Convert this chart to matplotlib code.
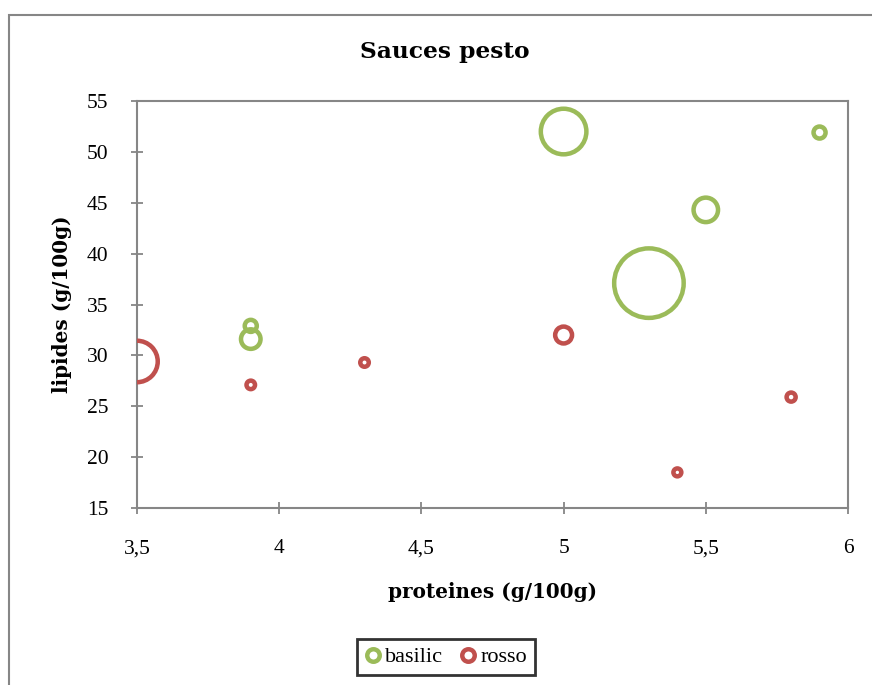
import matplotlib
matplotlib.use("Agg")
import matplotlib.pyplot as plt
from matplotlib.ticker import FuncFormatter
from matplotlib.patches import Rectangle
from matplotlib.lines import Line2D
import numpy as np

# data
basilic_prot = [5.0, 5.9, 5.5, 5.3, 3.9, 3.9]
basilic_lip = [52.0, 51.9, 44.3, 37.1, 32.9, 31.6]
basilic_size = [43.0, 3.0, 12.4, 100.0, 3.0, 7.9]

rosso_prot = [3.5, 3.9, 4.3, 5.0, 5.4, 5.8]
rosso_lip = [29.4, 27.1, 29.3, 32.0, 18.5, 25.9]
rosso_size = [35.6, 1.5, 1.5, 5.9, 1.3, 1.7]

x_ticks = [3.5, 4.0, 4.5, 5.0, 5.5, 6.0]
y_ticks = [15, 20, 25, 30, 35, 40, 45, 50, 55]

GREEN = "#9BBB59"
RED = "#C0504D"
AXGRAY = "#868686"
FONT = ["Liberation Serif", "DejaVu Serif"]
BOLDFONT = ["DejaVu Serif", "Liberation Serif"]
plt.rcParams["font.family"] = FONT

W, H, DPI = 872, 685, 100
fig = plt.figure(figsize=(W / DPI, H / DPI), dpi=DPI)
ax = fig.add_axes([137 / W, 1 - 508 / H, (848 - 137) / W, (508 - 101) / H])

LW_PX = 4.5
MAX_R_PX = 34.75
PT = 72 / DPI


def sizes(vals):
    r = MAX_R_PX * np.sqrt(np.array(vals) / max(basilic_size + rosso_size))
    return (2 * r * PT) ** 2


ax.scatter(basilic_prot, basilic_lip, s=sizes(basilic_size), facecolors="none",
           edgecolors=GREEN, linewidths=LW_PX * PT, zorder=3)
ax.scatter(rosso_prot, rosso_lip, s=sizes(rosso_size), facecolors="none",
           edgecolors=RED, linewidths=LW_PX * PT, zorder=3)

ax.set_xlim(3.5, 6.0)
ax.set_ylim(15, 55)
ax.set_xticks(x_ticks)
ax.set_yticks(y_ticks)
fmt = FuncFormatter(lambda v, p: ("%g" % v).replace(".", ","))
ax.xaxis.set_major_formatter(fmt)
ax.yaxis.set_major_formatter(fmt)

for side in ["left", "bottom", "top", "right"]:
    ax.spines[side].set_color(AXGRAY)
    ax.spines[side].set_linewidth(1.5)
ax.tick_params(direction="inout", length=9, width=1.3, color=AXGRAY,
               labelsize=15.5, labelcolor="black")
ax.tick_params(axis="x", pad=18)
ax.tick_params(axis="y", pad=16)

fig.text(445 / W, 1 - 52 / H, "Sauces pesto", ha="center", va="center",
         fontsize=16.8, fontweight="bold", family=BOLDFONT)
fig.text(492 / W, 1 - 592 / H, "proteines (g/100g)", ha="center", va="center",
         fontsize=14.4, fontweight="bold", family=BOLDFONT)
fig.text(62 / W, 1 - 304 / H, "lipides (g/100g)", ha="center", va="center",
         fontsize=14.4, fontweight="bold", rotation=90, family=BOLDFONT)

# outer chart border
fig.patches.append(Rectangle((8.5 / W, -0.1), 2, 1 - 14.5 / H + 0.1,
                             transform=fig.transFigure, fill=False,
                             edgecolor=AXGRAY, linewidth=1.5))

handles = [
    Line2D([], [], linestyle="none", marker="o", markersize=9,
           markerfacecolor="white", markeredgecolor=GREEN, markeredgewidth=3.2),
    Line2D([], [], linestyle="none", marker="o", markersize=9,
           markerfacecolor="white", markeredgecolor=RED, markeredgewidth=3.2),
]
leg = fig.legend(handles, ["basilic", "rosso"], loc="center",
                 bbox_to_anchor=(446 / W, 1 - 657 / H), ncol=2, frameon=True,
                 fancybox=False, fontsize=16, handlelength=0.7,
                 handletextpad=0.2, columnspacing=0.8, borderpad=0.35)
leg.get_frame().set_edgecolor("black")
leg.get_frame().set_linewidth(2)

fig.savefig("out.png", dpi=DPI)
